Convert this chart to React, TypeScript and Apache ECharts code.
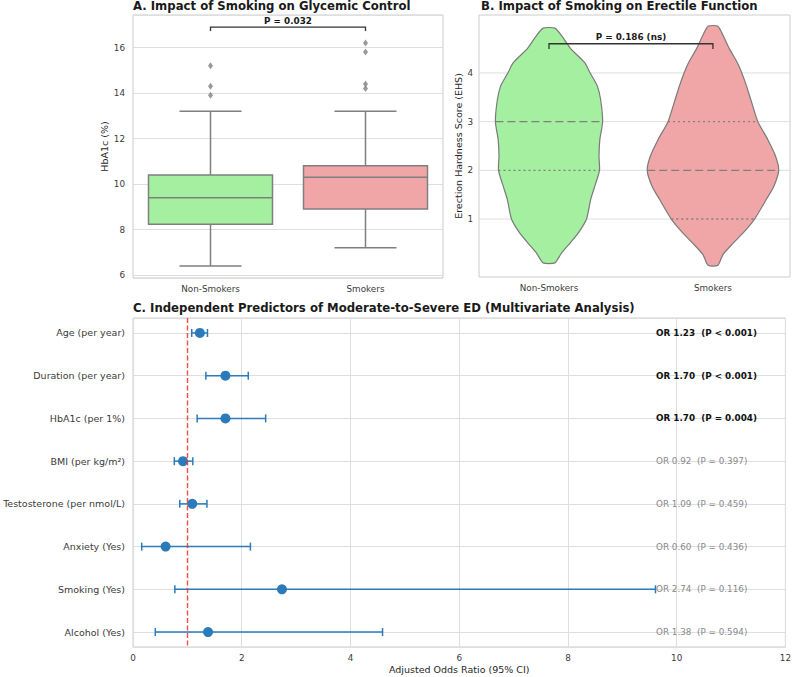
import React, { useEffect, useRef } from 'react';
import * as echarts from 'echarts';

const FONT = '"DejaVu Sans", "Liberation Sans", sans-serif';

// ---------- Panel A: HbA1c by smoking status ----------
const groups = ['Non-Smokers', 'Smokers'];
const hba1cLowWhisker = [6.4, 7.2];
const hba1cQ1 = [8.23, 8.9];
const hba1cMedian = [9.4, 10.3];
const hba1cQ3 = [10.4, 10.8];
const hba1cHighWhisker = [13.2, 13.2];
const hba1cOutliersNon = [15.2, 14.3, 13.9];
const hba1cOutliersSmk = [16.2, 15.8, 14.4, 14.2];
const hba1cPLabel = 'P = 0.032';

// ---------- Panel B: EHS violins ----------
const ehsLevelsNon = [4.92, 4.75, 4.5, 4.21, 4.0, 3.73, 3.45, 3.0, 2.63, 2.29, 2.0, 1.67, 1.4, 1.0, 0.71, 0.5, 0.3, 0.1];
const ehsDensityNon = [0.036, 0.08, 0.132, 0.218, 0.251, 0.295, 0.315, 0.327, 0.31, 0.305, 0.308, 0.279, 0.254, 0.229, 0.178, 0.127, 0.076, 0.036];
const ehsLevelsSmk = [4.96, 4.75, 4.5, 4.21, 4.0, 3.73, 3.45, 3.0, 2.63, 2.29, 2.0, 1.67, 1.4, 1.0, 0.71, 0.5, 0.27, 0.05];
const ehsDensitySmk = [0.03, 0.065, 0.1, 0.149, 0.176, 0.205, 0.231, 0.274, 0.335, 0.382, 0.401, 0.371, 0.325, 0.254, 0.183, 0.122, 0.061, 0.03];
const ehsQ1 = [2, 1];
const ehsMedian = [3, 2];
const ehsQ3 = [3, 3];
const ehsTicks = [1, 2, 3, 4];
const ehsPLabel = 'P = 0.186 (ns)';

// ---------- Panel C: forest plot ----------
const predictors = [
  'Age (per year)',
  'Duration (per year)',
  'HbA1c (per 1%)',
  'BMI (per kg/m²)',
  'Testosterone (per nmol/L)',
  'Anxiety (Yes)',
  'Smoking (Yes)',
  'Alcohol (Yes)',
];
const oddsRatios = [1.23, 1.7, 1.7, 0.92, 1.09, 0.6, 2.74, 1.38];
const ciLower = [1.08, 1.34, 1.18, 0.76, 0.86, 0.16, 0.77, 0.41];
const ciUpper = [1.37, 2.12, 2.44, 1.1, 1.36, 2.16, 9.61, 4.59];
const orLabels = ['OR 1.23', 'OR 1.70', 'OR 1.70', 'OR 0.92', 'OR 1.09', 'OR 0.60', 'OR 2.74', 'OR 1.38'];
const pLabels = ['P < 0.001', 'P < 0.001', 'P = 0.004', 'P = 0.397', 'P = 0.459', 'P = 0.436', 'P = 0.116', 'P = 0.594'];
const significant = [true, true, true, false, false, false, false, false];
const referenceOR = 1;

// ---------- styles ----------
const GREEN = '#a4f0a0';
const RED = '#f0a6a6';
const FILLS = [GREEN, RED];
const LINE_GRAY = '#7f7f7f';
const GRID_LINE = '#dedede';
const FRAME = '#cccccc';
const TICK_COLOR = '#3a3a3a';
const NAME_COLOR = '#262626';
const BLUE = '#2b7bba';

function interpHalfWidth(levels: number[], dens: number[], y: number): number {
  for (let k = 0; k < levels.length - 1; k++) {
    const a = levels[k];
    const b = levels[k + 1];
    if (y <= a && y >= b) {
      const t = (a - y) / (a - b);
      return dens[k] + t * (dens[k + 1] - dens[k]);
    }
  }
  return 0;
}

function buildOption(): any {
  const isInt = (v: number) => Math.abs(v - Math.round(v)) < 1e-6;
  const violinSets = [
    { levels: ehsLevelsNon, dens: ehsDensityNon },
    { levels: ehsLevelsSmk, dens: ehsDensitySmk },
  ];
  const titleStyle = { fontFamily: FONT, fontSize: 11.7, fontWeight: 'bold', color: '#1a1a1a' };
  const tickLabel = { fontFamily: FONT, fontSize: 8.8, color: TICK_COLOR };
  const nameStyle = { fontFamily: FONT, fontSize: 9.5, color: NAME_COLOR };

  return {
    animation: false,
    backgroundColor: '#ffffff',
    title: [
      { text: 'A. Impact of Smoking on Glycemic Control', left: 133, top: 0, padding: 0, textStyle: titleStyle },
      { text: 'B. Impact of Smoking on Erectile Function', left: 481, top: 0, padding: 0, textStyle: titleStyle },
      {
        text: 'C. Independent Predictors of Moderate-to-Severe ED (Multivariate Analysis)',
        left: 133,
        top: 302,
        padding: 0,
        textStyle: titleStyle,
      },
    ],
    grid: [
      { left: 133, top: 15, width: 310, height: 263, show: true, borderColor: FRAME, borderWidth: 1, backgroundColor: 'transparent' },
      { left: 479, top: 15, width: 311, height: 262, show: true, borderColor: FRAME, borderWidth: 1, backgroundColor: 'transparent' },
      { left: 133, top: 318, width: 653, height: 329, show: true, borderColor: FRAME, borderWidth: 1, backgroundColor: 'transparent' },
    ],
    xAxis: [
      {
        gridIndex: 0,
        type: 'category',
        data: groups,
        boundaryGap: true,
        axisLine: { show: false },
        axisTick: { show: false },
        splitLine: { show: false },
        axisLabel: { ...tickLabel, margin: 6 },
      },
      {
        gridIndex: 1,
        type: 'value',
        min: -0.427,
        max: 1.47,
        axisLine: { show: false },
        axisTick: { show: false },
        splitLine: { show: false },
        axisLabel: { show: false },
      },
      {
        gridIndex: 2,
        type: 'value',
        min: 0,
        max: 12,
        interval: 2,
        name: 'Adjusted Odds Ratio (95% CI)',
        nameLocation: 'middle',
        nameGap: 17,
        nameTextStyle: nameStyle,
        axisLine: { show: false },
        axisTick: { show: false },
        splitLine: { show: true, lineStyle: { color: GRID_LINE, width: 1 } },
        axisLabel: { ...tickLabel, margin: 6 },
      },
    ],
    yAxis: [
      {
        gridIndex: 0,
        type: 'value',
        min: 5.87,
        max: 17.43,
        minInterval: 2,
        maxInterval: 2,
        name: 'HbA1c (%)',
        nameLocation: 'middle',
        nameGap: 23,
        nameRotate: 90,
        nameTextStyle: nameStyle,
        axisLine: { show: false },
        axisTick: { show: false },
        splitLine: { show: true, lineStyle: { color: GRID_LINE, width: 1 } },
        axisLabel: { ...tickLabel, margin: 8, formatter: (v: number) => (isInt(v) ? String(Math.round(v)) : '') },
      },
      {
        gridIndex: 1,
        type: 'value',
        min: -0.19,
        max: 5.19,
        minInterval: 1,
        maxInterval: 1,
        name: 'Erection Hardness Score (EHS)',
        nameLocation: 'middle',
        nameGap: 15,
        nameRotate: 90,
        nameTextStyle: nameStyle,
        axisLine: { show: false },
        axisTick: { show: false },
        splitLine: { show: false },
        axisLabel: {
          ...tickLabel,
          margin: 6,
          formatter: (v: number) => (isInt(v) && ehsTicks.indexOf(Math.round(v)) >= 0 ? String(Math.round(v)) : ''),
        },
      },
      {
        gridIndex: 2,
        type: 'value',
        min: -0.35,
        max: 7.35,
        inverse: true,
        minInterval: 1,
        maxInterval: 1,
        axisLine: { show: false },
        axisTick: { show: false },
        splitLine: { show: true, lineStyle: { color: GRID_LINE, width: 1 } },
        axisLabel: {
          fontFamily: FONT,
          fontSize: 9.5,
          color: TICK_COLOR,
          margin: 8,
          formatter: (v: number) => {
            if (!isInt(v)) return '';
            const r = Math.round(v);
            return r >= 0 && r < predictors.length ? predictors[r] : '';
          },
        },
      },
    ],
    series: [
      // ---- Panel A: boxes ----
      {
        type: 'custom',
        xAxisIndex: 0,
        yAxisIndex: 0,
        z: 3,
        data: groups.map((_, i) => [i, hba1cLowWhisker[i], hba1cQ1[i], hba1cMedian[i], hba1cQ3[i], hba1cHighWhisker[i]]),
        renderItem: (params: any, api: any) => {
          const i = api.value(0);
          const band = api.size([1, 0])[0];
          const bh = band * 0.4;
          const ch = band * 0.2;
          const pLow = api.coord([i, api.value(1)]);
          const cx = pLow[0];
          const yLow = pLow[1];
          const yQ1 = api.coord([i, api.value(2)])[1];
          const yMed = api.coord([i, api.value(3)])[1];
          const yQ3 = api.coord([i, api.value(4)])[1];
          const yHigh = api.coord([i, api.value(5)])[1];
          const ls = { stroke: LINE_GRAY, lineWidth: 1.5 };
          return {
            type: 'group',
            children: [
              { type: 'line', shape: { x1: cx, y1: yQ1, x2: cx, y2: yLow }, style: ls },
              { type: 'line', shape: { x1: cx, y1: yQ3, x2: cx, y2: yHigh }, style: ls },
              { type: 'line', shape: { x1: cx - ch, y1: yLow, x2: cx + ch, y2: yLow }, style: ls },
              { type: 'line', shape: { x1: cx - ch, y1: yHigh, x2: cx + ch, y2: yHigh }, style: ls },
              {
                type: 'rect',
                shape: { x: cx - bh, y: yQ3, width: 2 * bh, height: yQ1 - yQ3 },
                style: { fill: FILLS[i], stroke: LINE_GRAY, lineWidth: 1.5 },
              },
              { type: 'line', shape: { x1: cx - bh, y1: yMed, x2: cx + bh, y2: yMed }, style: ls },
            ],
          };
        },
      },
      // ---- Panel A: outliers ----
      {
        type: 'scatter',
        xAxisIndex: 0,
        yAxisIndex: 0,
        z: 4,
        symbol: 'diamond',
        symbolSize: [5, 7],
        itemStyle: { color: LINE_GRAY },
        data: [
          ...hba1cOutliersNon.map((v) => [0, v]),
          ...hba1cOutliersSmk.map((v) => [1, v]),
        ],
      },
      // ---- Panel A: significance bracket ----
      {
        type: 'custom',
        xAxisIndex: 0,
        yAxisIndex: 0,
        z: 5,
        data: [[0, 1, 16.73, 16.9]],
        renderItem: (params: any, api: any) => {
          const a = api.coord([api.value(0), api.value(2)]);
          const b = api.coord([api.value(0), api.value(3)]);
          const c = api.coord([api.value(1), api.value(3)]);
          const d = api.coord([api.value(1), api.value(2)]);
          return {
            type: 'group',
            children: [
              { type: 'polyline', shape: { points: [a, b, c, d] }, style: { stroke: '#333333', lineWidth: 1.3, fill: 'none' } },
              {
                type: 'text',
                style: {
                  text: hba1cPLabel,
                  x: (b[0] + c[0]) / 2,
                  y: b[1] - 2,
                  align: 'center',
                  verticalAlign: 'bottom',
                  fill: '#1a1a1a',
                  fontFamily: FONT,
                  fontSize: 8.8,
                  fontWeight: 'bold',
                },
              },
            ],
          };
        },
      },
      // ---- Panel B: horizontal grid lines ----
      {
        type: 'custom',
        xAxisIndex: 1,
        yAxisIndex: 1,
        z: 1,
        data: ehsTicks.map((t) => [0, t]),
        renderItem: (params: any, api: any) => {
          const cs = params.coordSys;
          const y = api.coord([0, api.value(1)])[1];
          return {
            type: 'line',
            shape: { x1: cs.x, y1: y, x2: cs.x + cs.width, y2: y },
            style: { stroke: GRID_LINE, lineWidth: 1 },
          };
        },
      },
      // ---- Panel B: violins ----
      {
        type: 'custom',
        xAxisIndex: 1,
        yAxisIndex: 1,
        z: 3,
        data: groups.map((_, i) => [i]),
        renderItem: (params: any, api: any) => {
          const g = api.value(0);
          const vs = violinSets[g];
          const left = vs.levels.map((y: number, k: number) => api.coord([g - vs.dens[k], y]));
          const right = vs.levels.map((y: number, k: number) => api.coord([g + vs.dens[k], y])).reverse();
          const children: any[] = [
            {
              type: 'polygon',
              shape: { points: [...left, ...right], smooth: 0.2 },
              style: { fill: FILLS[g], stroke: '#7a7a7a', lineWidth: 1.2 },
            },
          ];
          const addLine = (yv: number, dash: number[]) => {
            const hw = interpHalfWidth(vs.levels, vs.dens, yv);
            const p1 = api.coord([g - hw, yv]);
            const p2 = api.coord([g + hw, yv]);
            children.push({
              type: 'line',
              shape: { x1: p1[0], y1: p1[1], x2: p2[0], y2: p2[1] },
              style: { stroke: LINE_GRAY, lineWidth: 1.4, lineDash: dash },
            });
          };
          if (ehsQ1[g] !== ehsMedian[g]) addLine(ehsQ1[g], [2, 3]);
          if (ehsQ3[g] !== ehsMedian[g]) addLine(ehsQ3[g], [2, 3]);
          addLine(ehsMedian[g], [8, 4]);
          const cs = params.coordSys;
          const cx = api.coord([g, 0])[0];
          children.push({
            type: 'text',
            style: {
              text: groups[g],
              x: cx,
              y: cs.y + cs.height + 6,
              align: 'center',
              verticalAlign: 'top',
              fill: TICK_COLOR,
              fontFamily: FONT,
              fontSize: 8.8,
            },
          });
          return { type: 'group', children };
        },
      },
      // ---- Panel B: significance bracket ----
      {
        type: 'custom',
        xAxisIndex: 1,
        yAxisIndex: 1,
        z: 5,
        data: [[0, 1, 4.49, 4.6]],
        renderItem: (params: any, api: any) => {
          const a = api.coord([api.value(0), api.value(2)]);
          const b = api.coord([api.value(0), api.value(3)]);
          const c = api.coord([api.value(1), api.value(3)]);
          const d = api.coord([api.value(1), api.value(2)]);
          return {
            type: 'group',
            children: [
              { type: 'polyline', shape: { points: [a, b, c, d] }, style: { stroke: '#333333', lineWidth: 1.3, fill: 'none' } },
              {
                type: 'text',
                style: {
                  text: ehsPLabel,
                  x: (b[0] + c[0]) / 2,
                  y: b[1] - 2,
                  align: 'center',
                  verticalAlign: 'bottom',
                  fill: '#1a1a1a',
                  fontFamily: FONT,
                  fontSize: 8.8,
                  fontWeight: 'bold',
                },
              },
            ],
          };
        },
      },
      // ---- Panel C: forest plot ----
      {
        type: 'custom',
        xAxisIndex: 2,
        yAxisIndex: 2,
        z: 4,
        data: predictors.map((_, i) => [oddsRatios[i], ciLower[i], ciUpper[i], i]),
        renderItem: (params: any, api: any) => {
          const row = api.value(3);
          const pOr = api.coord([api.value(0), row]);
          const pLo = api.coord([api.value(1), row]);
          const pHi = api.coord([api.value(2), row]);
          const ls = { stroke: BLUE, lineWidth: 1.5 };
          return {
            type: 'group',
            children: [
              { type: 'line', shape: { x1: pLo[0], y1: pLo[1], x2: pHi[0], y2: pHi[1] }, style: ls },
              { type: 'line', shape: { x1: pLo[0], y1: pLo[1] - 4, x2: pLo[0], y2: pLo[1] + 4 }, style: ls },
              { type: 'line', shape: { x1: pHi[0], y1: pHi[1] - 4, x2: pHi[0], y2: pHi[1] + 4 }, style: ls },
              { type: 'circle', shape: { cx: pOr[0], cy: pOr[1], r: 5 }, style: { fill: BLUE } },
            ],
          };
        },
        markLine: {
          silent: true,
          symbol: ['none', 'none'],
          label: { show: false },
          lineStyle: { color: '#ff2a2a', type: [5, 2.5], width: 1.4, opacity: 0.85 },
          emphasis: { disabled: true },
          data: [{ xAxis: referenceOR }],
        },
      },
      // ---- Panel C: OR / P annotations ----
      {
        type: 'custom',
        xAxisIndex: 2,
        yAxisIndex: 2,
        z: 2,
        data: predictors.map((_, i) => [9.62, i]),
        renderItem: (params: any, api: any) => {
          const i = params.dataIndex;
          const p = api.coord([api.value(0), api.value(1)]);
          return {
            type: 'text',
            style: {
              text: orLabels[i] + '  (' + pLabels[i] + ')',
              x: p[0],
              y: p[1],
              align: 'left',
              verticalAlign: 'middle',
              fill: significant[i] ? '#111111' : '#8a8a8a',
              fontFamily: FONT,
              fontSize: 8.8,
              fontWeight: significant[i] ? 'bold' : 'normal',
            },
          };
        },
      },
    ],
  };
}

export default function App() {
  const ref = useRef<HTMLDivElement>(null);
  useEffect(() => {
    if (!ref.current) return;
    const chart = echarts.init(ref.current, null, { renderer: 'svg' });
    chart.setOption(buildOption());
    return () => {
      chart.dispose();
    };
  }, []);
  return (
    <div
      ref={ref}
      style={{ position: 'fixed', left: 0, top: 0, width: 794, height: 677, background: '#ffffff' }}
    />
  );
}
